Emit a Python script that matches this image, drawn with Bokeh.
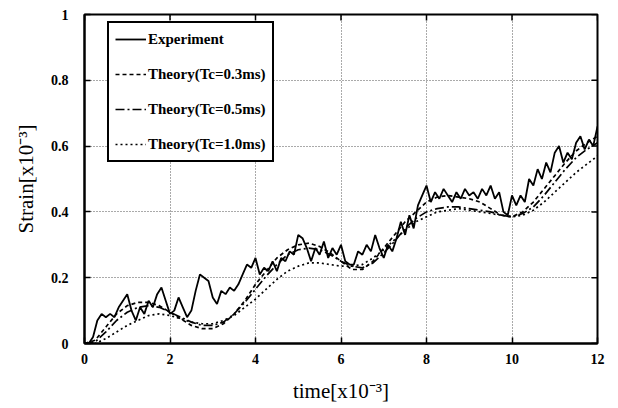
import math
from bokeh.plotting import figure
from bokeh.models import FixedTicker, Legend, LegendItem
from bokeh.embed import file_html
from bokeh.resources import INLINE

# ---- data ----
exp_t = [0.0, 0.1, 0.2, 0.3, 0.4, 0.5, 0.6, 0.7, 0.8, 0.9,
         1.0, 1.1, 1.2, 1.3, 1.4, 1.5, 1.6, 1.7, 1.8, 1.9,
         2.0, 2.1, 2.2, 2.3, 2.4, 2.5, 2.6, 2.7, 2.8, 2.9,
         3.0, 3.1, 3.2, 3.3, 3.4, 3.5, 3.6, 3.7, 3.8, 3.9,
         4.0, 4.1, 4.2, 4.3, 4.4, 4.5, 4.6, 4.7, 4.8, 4.9,
         5.0, 5.1, 5.2, 5.3, 5.4, 5.5, 5.6, 5.7, 5.8, 5.9,
         6.0, 6.1, 6.2, 6.3, 6.4, 6.5, 6.6, 6.7, 6.8, 6.9,
         7.0, 7.1, 7.2, 7.3, 7.4, 7.5, 7.6, 7.7, 7.8, 7.9,
         8.0, 8.1, 8.2, 8.3, 8.4, 8.5, 8.6, 8.7, 8.8, 8.9,
         9.0, 9.1, 9.2, 9.3, 9.4, 9.5, 9.6, 9.7, 9.8, 9.9,
         10.0, 10.1, 10.2, 10.3, 10.4, 10.5, 10.6, 10.7, 10.8, 10.9,
         11.0, 11.1, 11.2, 11.3, 11.4, 11.5, 11.6, 11.7, 11.8, 11.9, 12.0]
exp_strain = [0.00, 0.00, 0.02, 0.07, 0.09, 0.08, 0.09, 0.08, 0.11, 0.13,
              0.15, 0.10, 0.07, 0.11, 0.09, 0.13, 0.11, 0.15, 0.17, 0.13,
              0.09, 0.10, 0.14, 0.11, 0.08, 0.10, 0.16, 0.21, 0.20, 0.19,
              0.14, 0.12, 0.16, 0.15, 0.17, 0.16, 0.18, 0.21, 0.24, 0.23,
              0.26, 0.21, 0.23, 0.22, 0.25, 0.22, 0.26, 0.25, 0.28, 0.27,
              0.33, 0.32, 0.29, 0.25, 0.29, 0.27, 0.31, 0.26, 0.29, 0.27,
              0.30, 0.25, 0.24, 0.24, 0.28, 0.27, 0.30, 0.28, 0.33, 0.29,
              0.26, 0.30, 0.28, 0.32, 0.37, 0.33, 0.39, 0.35, 0.42, 0.45,
              0.48, 0.43, 0.46, 0.44, 0.47, 0.45, 0.43, 0.46, 0.44, 0.47,
              0.45, 0.46, 0.44, 0.47, 0.45, 0.48, 0.44, 0.46, 0.40, 0.39,
              0.45, 0.42, 0.45, 0.43, 0.50, 0.48, 0.53, 0.50, 0.55, 0.52,
              0.58, 0.60, 0.55, 0.58, 0.56, 0.61, 0.63, 0.59, 0.62, 0.60, 0.66]

th_t = [0.0, 0.25, 0.5, 0.75, 1.0, 1.25, 1.5, 1.75, 2.0, 2.25, 2.5, 2.75,
        3.0, 3.25, 3.5, 3.75, 4.0, 4.25, 4.5, 4.75, 5.0, 5.25, 5.5, 5.75,
        6.0, 6.25, 6.5, 6.75, 7.0, 7.25, 7.5, 7.75, 8.0, 8.25, 8.5, 8.75,
        9.0, 9.25, 9.5, 9.75, 10.0, 10.25, 10.5, 10.75, 11.0, 11.25, 11.5, 11.75, 12.0]
th_03 = [0.0, 0.01, 0.05, 0.09, 0.115, 0.125, 0.125, 0.115, 0.095, 0.075, 0.055, 0.045,
         0.045, 0.06, 0.09, 0.13, 0.18, 0.22, 0.26, 0.285, 0.30, 0.305, 0.295, 0.275,
         0.25, 0.225, 0.225, 0.25, 0.29, 0.33, 0.37, 0.40, 0.43, 0.445, 0.45, 0.445,
         0.44, 0.43, 0.41, 0.39, 0.385, 0.40, 0.43, 0.47, 0.51, 0.55, 0.585, 0.61, 0.63]
th_05 = [0.0, 0.005, 0.035, 0.07, 0.095, 0.11, 0.115, 0.11, 0.095, 0.08, 0.065, 0.055,
         0.055, 0.065, 0.09, 0.125, 0.165, 0.205, 0.24, 0.27, 0.285, 0.29, 0.285, 0.27,
         0.25, 0.235, 0.23, 0.245, 0.275, 0.31, 0.35, 0.38, 0.40, 0.41, 0.415, 0.415,
         0.41, 0.405, 0.40, 0.39, 0.385, 0.395, 0.415, 0.45, 0.49, 0.53, 0.565, 0.59, 0.61]
th_10 = [0.0, 0.0, 0.015, 0.035, 0.055, 0.07, 0.085, 0.09, 0.085, 0.075, 0.065, 0.06,
         0.06, 0.07, 0.085, 0.11, 0.135, 0.165, 0.195, 0.22, 0.235, 0.245, 0.245, 0.24,
         0.235, 0.235, 0.24, 0.26, 0.285, 0.315, 0.345, 0.37, 0.385, 0.40, 0.405, 0.41,
         0.405, 0.40, 0.395, 0.39, 0.385, 0.39, 0.405, 0.43, 0.46, 0.49, 0.52, 0.545, 0.57]

x_ticks = [0, 2, 4, 6, 8, 10, 12]
y_ticks = [0, 0.2, 0.4, 0.6, 0.8, 1]
y_tick_labels = ["0", "0.2", "0.4", "0.6", "0.8", "1"]
labels = ["Experiment", "Theory(Tc=0.3ms)", "Theory(Tc=0.5ms)", "Theory(Tc=1.0ms)"]

SERIF = "Liberation Serif"
X_MIN, X_MAX, Y_MIN, Y_MAX = 0, 12, 0, 1

p = figure(width=618, height=408, x_range=(X_MIN, X_MAX), y_range=(Y_MIN, Y_MAX),
           output_backend="svg", toolbar_location=None,
           min_border_left=84, min_border_right=21, min_border_top=14, min_border_bottom=65)
p.background_fill_color = "white"
p.border_fill_color = "white"
p.outline_line_color = "black"
p.outline_line_width = 2

# grid
p.xgrid.ticker = FixedTicker(ticks=x_ticks)
p.ygrid.ticker = FixedTicker(ticks=y_ticks)
for g in (p.xgrid, p.ygrid):
    g.grid_line_color = "#555555"
    g.grid_line_dash = "1 2"
    g.grid_line_width = 1

# axes
p.xaxis.ticker = FixedTicker(ticks=x_ticks)
p.yaxis.ticker = FixedTicker(ticks=y_ticks)
p.yaxis.major_label_overrides = {t: s for t, s in zip(y_ticks, y_tick_labels)}
for ax in (p.xaxis[0], p.yaxis[0]):
    ax.axis_line_color = "black"
    ax.axis_line_width = 2
    ax.major_tick_in = 6
    ax.major_tick_out = 0
    ax.major_tick_line_width = 1.5
    ax.minor_tick_line_color = None
    ax.major_label_text_font = SERIF
    ax.major_label_text_font_style = "bold"
    ax.major_label_text_font_size = "14px"
    ax.major_label_text_color = "black"
    ax.axis_label_text_font = SERIF
    ax.axis_label_text_font_style = "normal"
    ax.axis_label_text_font_size = "21px"
    ax.axis_label_text_color = "black"
p.xaxis.major_label_standoff = 10
p.yaxis.major_label_standoff = 16
p.xaxis.axis_label = "time[x10⁻³]"
p.yaxis.axis_label = "Strain[x10⁻³]"
p.xaxis.axis_label_standoff = 12
p.yaxis.axis_label_standoff = 10

# mirrored inward ticks on top and right edges
p.ray(x=x_ticks, y=[Y_MAX] * len(x_ticks), length=6, length_units="screen",
      angle=-math.pi / 2, line_color="black", line_width=1.5)
p.ray(x=[X_MAX] * len(y_ticks), y=y_ticks, length=6, length_units="screen",
      angle=math.pi, line_color="black", line_width=1.5)

# lines
r_exp = p.line(exp_t, exp_strain, line_color="black", line_width=1.8)
r_03 = p.line(th_t, th_03, line_color="black", line_width=1.7, line_dash="4 3")
r_05 = p.line(th_t, th_05, line_color="black", line_width=1.7, line_dash="9 3 2 3")
r_10 = p.line(th_t, th_10, line_color="black", line_width=1.7, line_dash="2 3")

legend = Legend(items=[LegendItem(label=l, renderers=[r]) for l, r in
                       zip(labels, [r_exp, r_03, r_05, r_10])],
                location=(23, 181))
legend.border_line_color = "black"
legend.border_line_alpha = 1
legend.border_line_width = 2.5
legend.background_fill_color = "white"
legend.background_fill_alpha = 1
legend.label_text_font = SERIF
legend.label_text_font_style = "bold"
legend.label_text_font_size = "15px"
legend.label_text_color = "black"
legend.glyph_width = 31
legend.glyph_height = 20
legend.label_height = 20
legend.label_standoff = 2
legend.spacing = 15
legend.padding = 6
legend.margin = 0
p.add_layout(legend, "center")

open("out.html", "w").write(file_html(p, INLINE))
